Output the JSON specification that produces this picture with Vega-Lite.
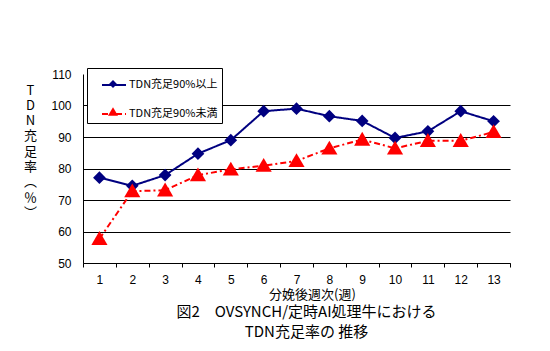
{
  "$schema": "https://vega.github.io/schema/vega-lite/v6.json",
  "width": 427,
  "height": 189,
  "autosize": {"type": "none"},
  "padding": {"left": 83, "top": 74, "right": 40, "bottom": 88},
  "background": "white",
  "config": {"view": {"stroke": null}, "font": "Noto Sans CJK JP"},
  "title": {
    "text": ["図2　OVSYNCH/定時AI処理牛における", "TDN充足率の 推移"],
    "orient": "bottom",
    "anchor": "middle",
    "fontSize": 15,
    "fontWeight": "normal",
    "lineHeight": 20,
    "offset": 4,
    "dx": 10,
    "font": "Noto Sans CJK JP",
    "color": "black"
  },
  "data": {
    "values": [
      {"week": 1, "series": "TDN充足90%以上", "value": 77.1},
      {"week": 2, "series": "TDN充足90%以上", "value": 74.5},
      {"week": 3, "series": "TDN充足90%以上", "value": 77.9},
      {"week": 4, "series": "TDN充足90%以上", "value": 84.7},
      {"week": 5, "series": "TDN充足90%以上", "value": 89.0},
      {"week": 6, "series": "TDN充足90%以上", "value": 98.2},
      {"week": 7, "series": "TDN充足90%以上", "value": 99.0},
      {"week": 8, "series": "TDN充足90%以上", "value": 96.6},
      {"week": 9, "series": "TDN充足90%以上", "value": 95.1},
      {"week": 10, "series": "TDN充足90%以上", "value": 89.7},
      {"week": 11, "series": "TDN充足90%以上", "value": 91.8},
      {"week": 12, "series": "TDN充足90%以上", "value": 98.2},
      {"week": 13, "series": "TDN充足90%以上", "value": 95.0},
      {"week": 1, "series": "TDN充足90%未満", "value": 57.7},
      {"week": 2, "series": "TDN充足90%未満", "value": 72.8},
      {"week": 3, "series": "TDN充足90%未満", "value": 73.1},
      {"week": 4, "series": "TDN充足90%未満", "value": 77.9},
      {"week": 5, "series": "TDN充足90%未満", "value": 79.7},
      {"week": 6, "series": "TDN充足90%未満", "value": 80.9},
      {"week": 7, "series": "TDN充足90%未満", "value": 82.4},
      {"week": 8, "series": "TDN充足90%未満", "value": 86.4},
      {"week": 9, "series": "TDN充足90%未満", "value": 89.2},
      {"week": 10, "series": "TDN充足90%未満", "value": 86.4},
      {"week": 11, "series": "TDN充足90%未満", "value": 88.8},
      {"week": 12, "series": "TDN充足90%未満", "value": 88.8},
      {"week": 13, "series": "TDN充足90%未満", "value": 91.6}
    ]
  },
  "encoding": {
    "x": {
      "field": "week",
      "type": "ordinal",
      "bandPosition": 0.5,
      "scale": {"type": "band", "paddingInner": 0, "paddingOuter": 0},
      "axis": {
        "title": "分娩後週次(週)",
        "labelAngle": 0,
        "labelFont": "Liberation Sans",
        "labelFontSize": 12,
        "labelColor": "black",
        "tickBand": "extent",
        "tickSize": 4,
        "tickColor": "black",
        "domainColor": "black",
        "labelPadding": 7,
        "titleFont": "Noto Sans CJK JP",
        "titleFontSize": 13,
        "titleFontWeight": "normal",
        "titleColor": "black",
        "titlePadding": 3,
        "titleX": 229,
        "grid": false
      }
    },
    "y": {
      "field": "value",
      "type": "quantitative",
      "scale": {"domain": [50, 110], "nice": false, "zero": false},
      "axis": {
        "values": [50, 60, 70, 80, 90, 100, 110],
        "title": ["T", "D", "N", "充", "足", "率", "︵", "％", "︶"],
        "titleAngle": 0,
        "titleX": -53,
        "titleY": 10,
        "titleBaseline": "top",
        "titleAlign": "center",
        "titleLineHeight": 15.3,
        "titleFont": "Noto Sans CJK JP",
        "titleFontSize": 13,
        "titleFontWeight": "normal",
        "titleColor": "black",
        "labelFont": "Liberation Sans",
        "labelFontSize": 12,
        "labelColor": "black",
        "labelPadding": 12,
        "ticks": false,
        "grid": true,
        "gridColor": "black",
        "gridOpacity": {"condition": {"test": "datum.value >= 110", "value": 0}, "value": 1},
        "domainColor": "black"
      }
    }
  },
  "layer": [
    {
      "mark": {"type": "line", "strokeWidth": 2},
      "encoding": {
        "color": {
          "field": "series",
          "type": "nominal",
          "scale": {"domain": ["TDN充足90%以上", "TDN充足90%未満"], "range": ["#000080", "#FF0000"]},
          "legend": {
            "title": null, "orient": "none", "legendX": 4, "legendY": -6,
            "symbolType": "stroke",
            "symbolSize": 576, "symbolStrokeWidth": 2, "symbolOffset": 10,
            "padding": 4, "rowPadding": 11,
            "labelFont": "Noto Sans CJK JP", "labelFontSize": 11, "labelColor": "black", "labelOffset": 2,
            "strokeColor": "black", "fillColor": "white",
            "labelExpr": "datum.label + '   '"
          }
        },
        "strokeDash": {
          "field": "series",
          "type": "nominal",
          "scale": {"domain": ["TDN充足90%以上", "TDN充足90%未満"], "range": [[1, 0], [6, 3, 2, 3]]},
          "legend": {
            "title": null, "orient": "none", "legendX": 4, "legendY": -6,
            "symbolType": "stroke",
            "symbolSize": 576, "symbolStrokeWidth": 2, "symbolOffset": 10,
            "padding": 4, "rowPadding": 11,
            "labelFont": "Noto Sans CJK JP", "labelFontSize": 11, "labelColor": "black", "labelOffset": 2,
            "strokeColor": "black", "fillColor": "white",
            "labelExpr": "datum.label + '   '"
          }
        }
      }
    },
    {
      "mark": {"type": "point", "filled": true, "size": 1480, "opacity": 1, "strokeWidth": 0},
      "encoding": {
        "fill": {
          "field": "series",
          "type": "nominal",
          "scale": {"range": ["#000080", "#FF0000"]},
          "legend": {
            "title": null, "orient": "none", "legendX": 4, "legendY": -6,
            "symbolSize": 576, "symbolStrokeWidth": 0, "symbolOffset": 10,
            "padding": 4, "rowPadding": 11,
            "labelFont": "Noto Sans CJK JP", "labelFontSize": 11, "labelOpacity": 0, "labelOffset": 2,
            "labelExpr": "datum.label + '   '"
          }
        },
        "shape": {
          "field": "series",
          "type": "nominal",
          "scale": {
            "range": ["M0,-0.33L0.33,0L0,0.33L-0.33,0Z", "M0,-0.4L0.42,0.32L-0.42,0.32Z"]
          },
          "legend": {
            "title": null, "orient": "none", "legendX": 4, "legendY": -6,
            "symbolSize": 576, "symbolStrokeWidth": 0, "symbolOffset": 10,
            "padding": 4, "rowPadding": 11,
            "labelFont": "Noto Sans CJK JP", "labelFontSize": 11, "labelOpacity": 0, "labelOffset": 2,
            "labelExpr": "datum.label + '   '"
          }
        }
      }
    }
  ]
}
